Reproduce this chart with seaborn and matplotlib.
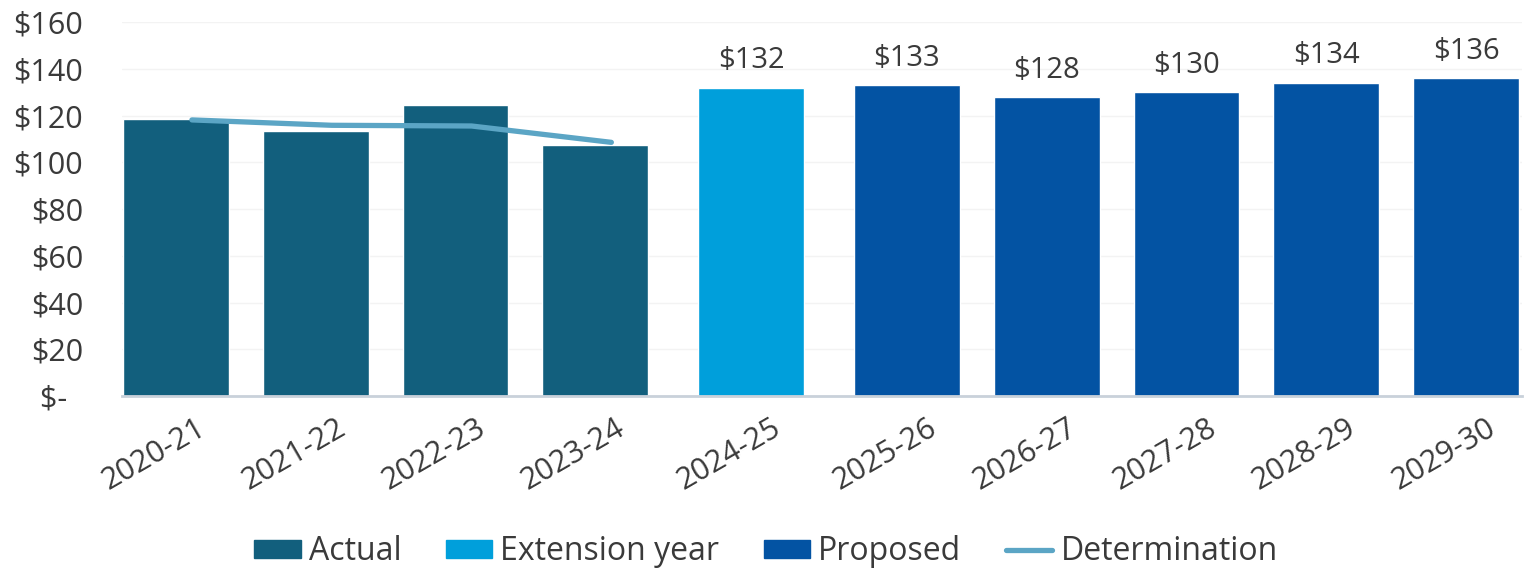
import numpy as np
import pandas as pd
import matplotlib.pyplot as plt
import matplotlib.transforms as mtransforms
from matplotlib.patches import Patch
from matplotlib.lines import Line2D
import seaborn as sns

# chart values
years = ["2020-21", "2021-22", "2022-23", "2023-24", "2024-25",
         "2025-26", "2026-27", "2027-28", "2028-29", "2029-30"]
cost = [118.5, 113.3, 124.5, 107.3, 132, 133, 128, 130, 134, 136]
series = ["Actual"] * 4 + ["Extension year"] + ["Proposed"] * 5
determination_years = ["2020-21", "2021-22", "2022-23", "2023-24"]
determination = [118.2, 115.9, 115.6, 108.6]
y_ticks = [0, 20, 40, 60, 80, 100, 120, 140, 160]

palette = {"Actual": "#125f7d", "Extension year": "#009fdb", "Proposed": "#0353a3"}
line_color = "#5ba5c5"
text_color = "#3a3a3a"

sns.set_theme(style="white")
plt.rcParams["font.family"] = ["Open Sans", "DejaVu Sans"]

df = pd.DataFrame({"year": years, "cost": cost, "series": series})
# small extra gap between each series group, as in the original chart
group_rank = {"Actual": 0, "Extension year": 1, "Proposed": 2}
df["pos"] = np.arange(len(df)) + 0.114 * df["series"].map(group_rank)

fig = plt.figure(figsize=(15.32, 5.70), dpi=100)
ax = fig.add_axes([0.0796, 0.305, 0.914, 0.656])

sns.barplot(data=df, x="pos", y="cost", hue="series", palette=palette,
            native_scale=True, dodge=False, width=0.757, legend=False,
            saturation=1, ax=ax)

# data labels on forecast bars only
for cont, name in zip(ax.containers, palette.keys()):
    if name == "Actual":
        continue
    ax.bar_label(cont, labels=[f"${v:.0f}" for v in cont.datavalues],
                 padding=9, fontsize=21, color=text_color)

det = df[df["year"].isin(determination_years)][["pos"]].copy()
det["value"] = determination
shift = mtransforms.offset_copy(ax.transData, fig=fig, x=16, y=0, units="dots")
sns.lineplot(data=det, x="pos", y="value", color=line_color, linewidth=3.8,
             solid_capstyle="round", ax=ax, transform=shift)

ax.set_ylim(0, 160)
ax.set_xlim(-0.386, 9.629)
ax.tick_params(axis="both", length=0)
ax.tick_params(axis="y", pad=28)
ax.tick_params(axis="x", pad=12)
ax.set_yticks(y_ticks)
ax.set_yticklabels(["$-  " if t == 0 else f"${t}" for t in y_ticks],
                   fontsize=22, color=text_color)
ax.set_xticks(df["pos"])
ax.set_xticklabels(years, rotation=30, ha="right", rotation_mode="anchor",
                   fontsize=22, color=text_color)
ax.yaxis.grid(True, color="#f3f3f3", linewidth=1)
ax.set_axisbelow(True)
ax.set_xlabel("")
ax.set_ylabel("")
for side in ["left", "right", "top"]:
    ax.spines[side].set_visible(False)
ax.spines["bottom"].set_color("#c9d1da")
ax.spines["bottom"].set_linewidth(2)

handles = [Patch(facecolor=c, edgecolor=c) for c in palette.values()]
handles.append(Line2D([0], [0], color=line_color, linewidth=3.8, solid_capstyle="round"))
labels = list(palette.keys()) + ["Determination"]
fig.legend(handles, labels, loc="center", bbox_to_anchor=(0.5, 18 / 570),
           ncol=4, frameon=False, fontsize=23, handlelength=1.45,
           handleheight=0.52, handletextpad=0.25, columnspacing=1.4,
           labelcolor=text_color)

# nudge the rotated year labels right, as in the original
label_shift = mtransforms.ScaledTranslation(20 / 100, 0, fig.dpi_scale_trans)
for tick in ax.xaxis.get_major_ticks():
    tick.label1.set_transform(tick.label1.get_transform() + label_shift)

fig.savefig("out.png", dpi=100)
